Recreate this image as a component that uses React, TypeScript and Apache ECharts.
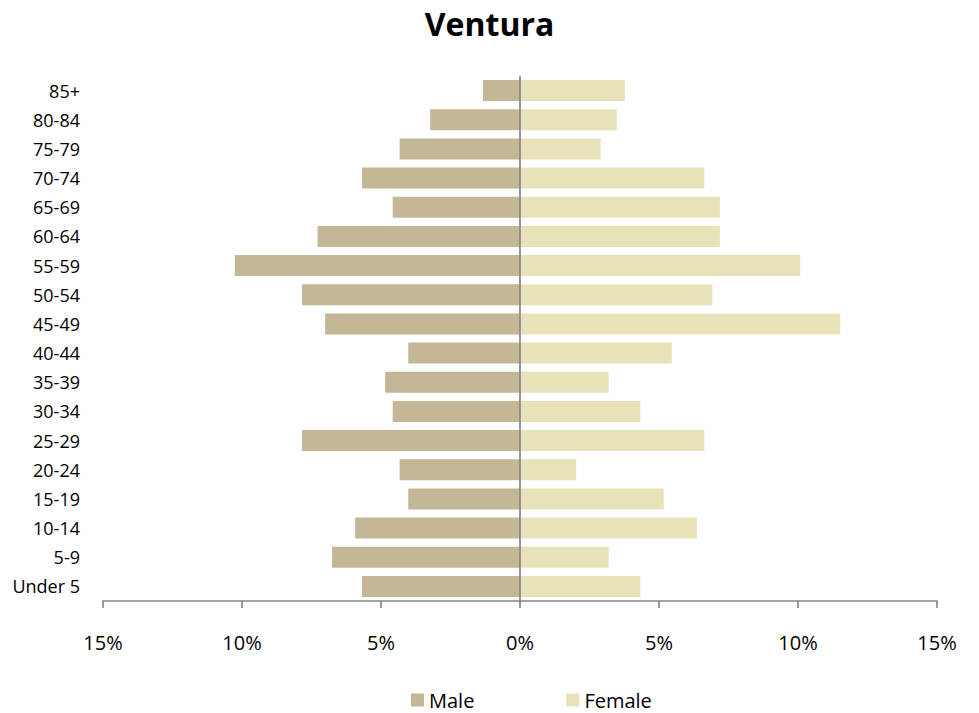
import React, { useEffect, useRef } from "react";
import * as echarts from "echarts";

const categories = [
  "Under 5", "5-9", "10-14", "15-19", "20-24", "25-29", "30-34", "35-39", "40-44",
  "45-49", "50-54", "55-59", "60-64", "65-69", "70-74", "75-79", "80-84", "85+",
];
const maleValues = [
  5.68, 6.76, 5.93, 4.02, 4.33, 7.84, 4.58, 4.85, 4.02,
  7.01, 7.84, 10.26, 7.28, 4.58, 5.68, 4.33, 3.23, 1.33,
];
const femaleValues = [
  4.33, 3.19, 6.36, 5.17, 2.02, 6.63, 4.33, 3.19, 5.46,
  11.52, 6.92, 10.08, 7.19, 7.19, 6.63, 2.9, 3.48, 3.77,
];
const xTicks = { min: -15, max: 15, interval: 5 };

const FONT = "'Open Sans', sans-serif";
const AXIS_GRAY = "#868686";

export default function App() {
  const ref = useRef<HTMLDivElement>(null);
  useEffect(() => {
    if (!ref.current) return;
    const chart = echarts.init(ref.current, null, { renderer: "svg" });
    chart.setOption({
      animation: false,
      backgroundColor: "#ffffff",
      title: {
        text: "Ventura",
        left: "center",
        top: 2,
        textStyle: { fontFamily: FONT, fontSize: 32, fontWeight: "bold", color: "#000" },
      },
      legend: {
        data: ["Male", "Female"],
        left: 406,
        top: 685,
        icon: "rect",
        itemWidth: 13,
        itemHeight: 13,
        itemGap: 92,
        textStyle: { fontFamily: FONT, fontSize: 20, color: "#000", lineHeight: 20 },
      },
      grid: { left: 103, right: 42, top: 76, bottom: 112, containLabel: false },
      xAxis: {
        type: "value",
        min: xTicks.min,
        max: xTicks.max,
        interval: xTicks.interval,
        splitLine: { show: false },
        axisLine: { show: true, lineStyle: { color: AXIS_GRAY, width: 1.7 } },
        axisTick: { show: true, length: 7, lineStyle: { color: AXIS_GRAY, width: 1.7 } },
        axisLabel: {
          margin: 31,
          fontFamily: FONT,
          fontSize: 20,
          color: "#000",
          formatter: (v: number) => Math.abs(v) + "%",
        },
      },
      yAxis: {
        type: "category",
        data: categories,
        axisLine: { show: false },
        axisTick: { show: false },
        axisLabel: { margin: 23, fontFamily: FONT, fontSize: 18, color: "#000" },
      },
      series: [
        {
          name: "Male",
          type: "bar",
          stack: "pop",
          barWidth: 21,
          itemStyle: { color: "#C4B796" },
          data: maleValues.map((v) => -v),
          markLine: {
            silent: true,
            symbol: "none",
            label: { show: false },
            lineStyle: { color: AXIS_GRAY, width: 1.7, type: "solid" },
            data: [{ xAxis: 0 }],
          },
        },
        {
          name: "Female",
          type: "bar",
          stack: "pop",
          barWidth: 21,
          itemStyle: { color: "#E8E2B9" },
          data: femaleValues,
        },
      ],
    });
    return () => chart.dispose();
  }, []);
  return (
    <div
      ref={ref}
      style={{ position: "fixed", left: 0, top: 0, width: 979, height: 713 }}
    />
  );
}
